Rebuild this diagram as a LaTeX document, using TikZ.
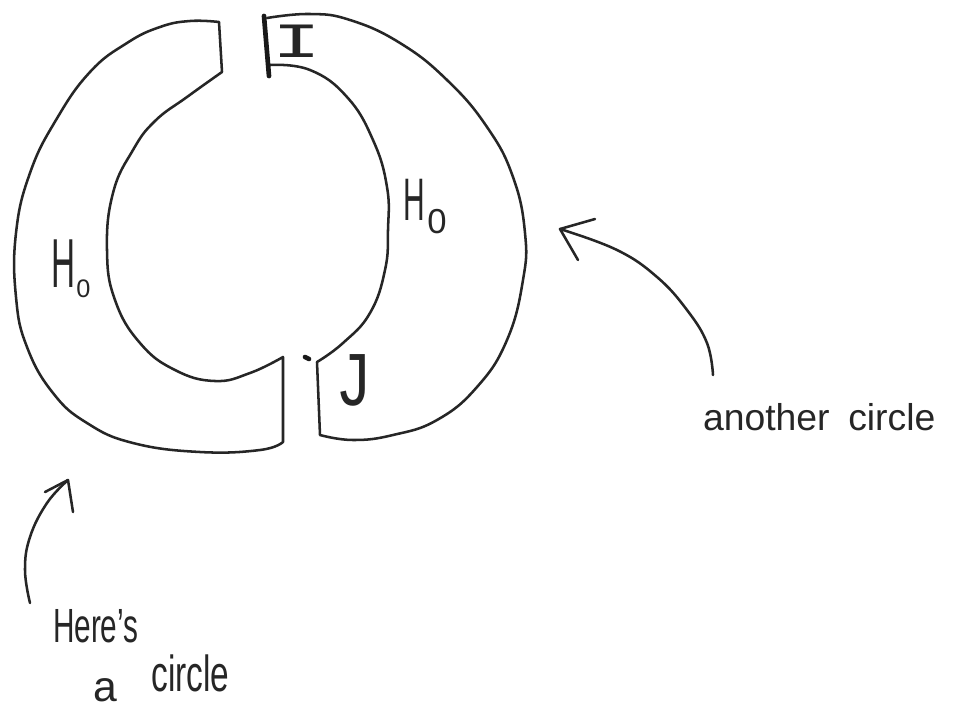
\documentclass[tikz,border=0pt]{standalone}
\usepackage{fontspec}
\setmainfont{Liberation Sans}
\newfontfamily\monof{Liberation Mono}
\begin{document}
\begin{tikzpicture}[x=0.75pt,y=-0.75pt, line join=round, line cap=round,
  ink/.style={draw=black!85, line width=1.9pt},
  lbl/.style={inner sep=0pt, outer sep=0pt, text=black!85}]
\useasboundingbox (0,0) rectangle (954,708);
\fill[white] (0,0) rectangle (954,708);

% left piece
\draw[ink] (219,22) -- plot[smooth, tension=0.75] coordinates {(219,22) (190,21) (160,27) (127,43) (90,72) (56,120) (30,173) (16,233) (16,297) (27,347) (53,393) (87,423) (133,443) (200,452) (260,450) (283,442)}
  -- (283,357)
  -- plot[smooth, tension=0.75] coordinates {(283,357) (250,373) (215,381) (175,370) (140,343) (115,300) (107,250) (113,193) (133,150) (155,121) (187,97) (222,72)}
  -- cycle;

% right piece
\draw[ink] (267,18) -- plot[smooth, tension=0.75] coordinates {(267,18) (310,14) (350,20) (400,43) (447,80) (487,127) (513,177) (525,233) (523,280) (507,340) (477,387) (437,420) (393,435) (353,440) (320,435)}
  -- (317,362)
  -- plot[smooth, tension=0.75] coordinates {(317,362) (343,343) (370,313) (385,270) (388,230) (387,187) (373,140) (347,97) (310,70) (270,65)};
\draw[draw=black!90, line width=3.5pt] (264,16) -- (269,76);
\draw[draw=black!90, line width=3.5pt] (305,357) -- (309,359);

% labels
\node[lbl, anchor=base west, font=\fontsize{52}{52}\selectfont] (hleft) at (51,287)
  {\scalebox{0.48}[1]{H}\hspace{1pt}\raisebox{-8pt}{\fontsize{19}{19}\selectfont 0}};
\node[lbl, anchor=base west, font=\fontsize{45}{45}\selectfont] (hright) at (403,220)
  {\scalebox{0.5}[1]{H}\hspace{2pt}\raisebox{-10pt}{\fontsize{26}{26}\selectfont 0}};
\node[lbl, anchor=base, font=\monof\fontsize{37}{37}\selectfont] (ilabel) at (297,57) {\scalebox{1.65}[1]{I}};
\node[lbl, anchor=base, font=\monof\fontsize{58}{58}\selectfont] (jlabel) at (354,405) {\scalebox{0.8}[1]{J}};

\node[lbl, anchor=base west, font=\fontsize{28}{28}\selectfont] (another) at (703,430) {another\hspace{14pt}circle};
\node[lbl, anchor=base west, font=\fontsize{36}{36}\selectfont] (heres) at (53,642) {\scalebox{0.62}[1]{Here's}};
\node[lbl, anchor=base west, font=\fontsize{32}{32}\selectfont] (acircle) at (93,701)
  {a\hspace{26pt}\raisebox{7pt}{\fontsize{38}{38}\selectfont\scalebox{0.66}[1]{circle}}};

% arrows
\coordinate (rtail) at (713,375);
\coordinate (rtip) at (560,229);
\draw[ink] (rtail) -- plot[smooth, tension=0.7] coordinates {(713,375) (707,343) (687,310) (657,277) (617,250) (560,229)};
\draw[ink] (595,219) -- (rtip) -- (578,260);

\coordinate (ltail) at (30,603);
\coordinate (ltip) at (68,480);
\draw[ink] (ltail) -- plot[smooth, tension=0.7] coordinates {(30,603) (25,570) (30,537) (47,503) (68,480)};
\draw[ink] (45,492) -- (ltip) -- (73,512);
\end{tikzpicture}
\end{document}
